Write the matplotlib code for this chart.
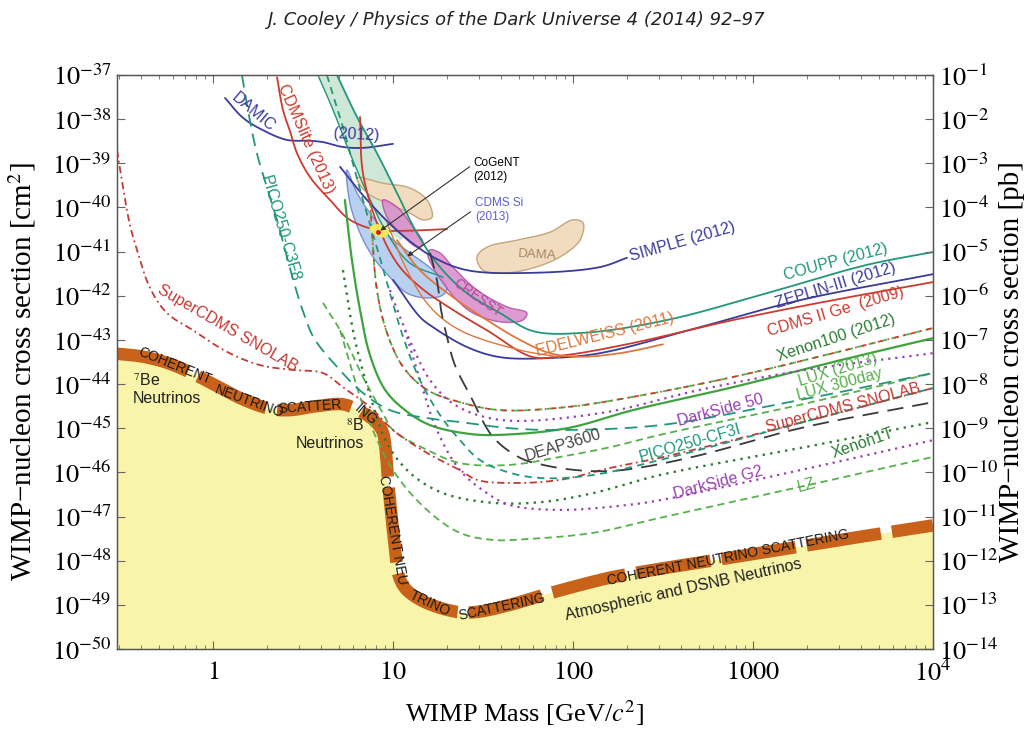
import numpy as np
import matplotlib
matplotlib.use("Agg")
import matplotlib.pyplot as plt
from matplotlib.ticker import FixedLocator, FixedFormatter, LogLocator, NullFormatter, NullLocator

plt.rcParams['mathtext.fontset'] = 'stix'
plt.rcParams['font.family'] = ['Liberation Sans', 'DejaVu Sans']

# ---------------- data: log10(mass / GeV), log10(sigma / cm^2) ----------------
floor_logm = [-0.54, -0.387, -0.239, -0.109, 0.020, 0.169, 0.317, 0.428, 0.576, 0.724, 0.835, 0.909,
              0.944, 0.962, 0.972, 0.99, 1.0, 1.015, 1.028, 1.055, 1.094, 1.189, 1.356, 1.467, 1.65,
              1.833, 2.078, 2.222, 2.444, 3.0, 3.5, 4.0]
floor_logs = [-43.31, -43.38, -43.54, -43.77, -44.04, -44.35, -44.56, -44.59, -44.50, -44.46, -44.65, -44.88,
              -45.1, -45.6, -46.17, -46.9, -47.31, -47.85, -48.28, -48.55, -48.73, -48.96, -49.16, -49.16, -49.0,
              -48.78, -48.51, -48.37, -48.21, -47.85, -47.52, -47.2]

damic_logm = [0.067, 0.167, 0.278, 0.411, 0.539, 0.611, 0.722, 0.833, 1.0]
damic_logs = [-37.52, -37.97, -38.25, -38.47, -38.49, -38.52, -38.63, -38.65, -38.56]

cdmslite_logm = [0.356, 0.389, 0.43, 0.467, 0.539, 0.65, 0.761, 0.911, 1.039, 1.3]
cdmslite_logs = [-37.05, -37.79, -38.3, -38.77, -39.31, -39.83, -40.28, -40.51, -40.53, -40.49]

coupp_logm = [0.689, 0.8, 0.911, 1.022, 1.133, 1.261, 1.411, 1.594, 1.778, 2.056, 2.522, 3.078, 3.633, 4.0]
coupp_logs = [-37.0, -37.95, -38.77, -39.67, -40.58, -41.35, -41.94, -42.39, -42.8, -42.84, -42.55, -41.94, -41.3, -41.01]

bandedge_logm = [0.583, 0.667, 0.761, 0.856, 0.967, 1.094, 1.278]
bandedge_logs = [-37.0, -37.79, -38.77, -39.67, -40.58, -41.26, -41.58]

band_logm = [0.583, 0.667, 0.761, 0.856, 0.928, 1.039, 1.133, 1.022, 0.911, 0.8, 0.689]
band_logs = [-37.0, -37.79, -38.77, -39.67, -40.4, -40.74, -40.58, -39.67, -38.77, -37.95, -37.0]

simple_logm = [0.706, 0.856, 1.039, 1.222, 1.411, 1.778, 2.15, 2.3]
simple_logs = [-39.08, -39.83, -40.58, -41.12, -41.42, -41.48, -41.35, -41.14]

zeplin_logm = [1.0, 1.15, 1.222, 1.411, 1.594, 1.872, 2.15, 2.706, 3.261, 4.0]
zeplin_logs = [-41.64, -42.48, -42.71, -43.16, -43.39, -43.41, -43.3, -42.71, -42.1, -41.51]

cdms2_logm = [0.817, 0.833, 0.911, 1.022, 1.15, 1.333, 1.522, 1.778, 1.967, 2.333, 2.889, 3.444, 4.0]
cdms2_logs = [-37.95, -39.22, -40.35, -41.26, -41.8, -42.32, -42.78, -43.39, -43.34, -43.07, -42.55, -42.1, -41.69]

edelweiss_logm = [1.022, 1.15, 1.333, 1.522, 1.706, 1.872, 2.039, 2.261, 2.5]
edelweiss_logs = [-40.74, -41.42, -42.03, -42.55, -43.0, -43.3, -43.38, -43.3, -43.1]

orange2_logm = [0.967, 1.078, 1.206, 1.372, 1.706, 1.928]
orange2_logs = [-40.35, -41.42, -42.25, -42.78, -43.23, -43.39]

xenon100_logm = [0.872, 0.911, 0.967, 1.056, 1.189, 1.372, 1.594, 1.967, 2.333, 2.889, 3.444, 4.0]
xenon100_logs = [-39.83, -41.87, -42.84, -43.61, -44.13, -44.41, -44.59, -44.52, -44.29, -43.84, -43.3, -42.73]

lux13_logm = [0.733, 0.772, 0.817, 0.872, 0.956, 1.067, 1.206, 1.428, 1.594, 1.967, 2.333, 2.889, 3.444, 4.0]
lux13_logs = [-39.83, -41.19, -42.32, -43.34, -44.13, -44.59, -44.93, -45.13, -45.15, -45.0, -44.59, -44.07, -43.5, -42.96]

ds50_logm = [0.983, 1.039, 1.106, 1.206, 1.344, 1.594, 2.15, 2.706, 3.261, 4.0]
ds50_logs = [-41.87, -42.48, -43.12, -43.91, -44.47, -44.81, -44.66, -44.13, -43.7, -43.3]

lux300_logm = [0.611, 0.722, 0.833, 0.944, 1.0, 1.189, 1.372, 1.65, 1.928, 2.206, 2.483, 3.261, 4.0]
lux300_logs = [-42.16, -42.89, -43.84, -44.66, -45.04, -45.49, -45.79, -45.83, -45.65, -45.43, -45.15, -44.47, -43.75]

scdms_logm = [-0.533, -0.5, -0.461, -0.422, -0.35, -0.256, -0.111, 0.078, 0.261, 0.444, 0.611, 0.722, 0.872,
              1.0, 1.189, 1.372, 1.467, 1.65, 1.928, 2.206, 2.483, 3.261, 4.0]
scdms_logs = [-38.7, -39.54, -40.4, -40.96, -41.82, -42.39, -42.78, -43.27, -43.57, -43.68, -43.75, -44.07, -44.52,
              -45.04, -45.56, -45.95, -46.17, -46.24, -46.17, -45.9, -45.67, -44.88, -44.09]

deap_logm = [1.206, 1.244, 1.267, 1.3, 1.344, 1.428, 1.556, 1.706, 1.833, 2.022, 2.206, 2.389, 2.706, 3.261, 4.0]
deap_logs = [-41.03, -41.64, -42.32, -42.93, -43.57, -44.25, -45.2, -45.67, -45.83, -45.95, -45.97, -45.88, -45.61, -45.0, -44.41]

xe1t_logm = [0.722, 0.789, 0.889, 0.967, 1.094, 1.278, 1.556, 1.833, 2.111, 2.483, 3.261, 4.0]
xe1t_logs = [-41.42, -43.0, -44.47, -45.34, -46.01, -46.47, -46.69, -46.67, -46.47, -46.06, -45.45, -44.86]

dsg2_logm = [1.067, 1.15, 1.244, 1.372, 1.522, 1.65, 1.928, 2.3, 2.483, 3.261, 4.0]
dsg2_logs = [-42.78, -43.91, -45.04, -45.95, -46.47, -46.74, -46.85, -46.74, -46.63, -45.95, -45.27]

lz_logm = [0.706, 0.844, 1.0, 1.189, 1.372, 1.556, 1.744, 2.111, 2.483, 3.261, 4.0]
lz_logs = [-42.78, -44.59, -45.95, -46.85, -47.37, -47.53, -47.51, -47.37, -47.03, -46.33, -45.65]

c3f8_logm = [0.161, 0.194, 0.244, 0.3, 0.356, 0.4, 0.45, 0.5, 0.56, 0.689, 0.833, 0.983, 1.189, 1.372,
             1.65, 1.928, 2.483, 3.261, 4.0]
c3f8_logs = [-37.0, -37.79, -38.77, -39.54, -40.28, -40.95, -41.7, -42.35, -42.95, -43.61, -44.2, -44.59, -44.77,
             -44.86, -45.0, -45.04, -44.93, -44.36, -43.75]

cf3i_logm = [0.633, 0.722, 0.833, 0.911, 0.983, 1.056, 1.15, 1.261, 1.372, 1.483, 1.65, 1.833, 2.111, 2.483, 3.261, 4.0]
cf3i_logs = [-37.0, -38.18, -39.83, -40.9, -41.94, -42.93, -43.91, -44.7, -45.27, -45.72, -46.01, -46.13, -46.06,
             -45.72, -44.88, -44.09]

dama1_logm = [0.8, 0.944, 1.094, 1.189, 1.217, 1.167, 1.094, 0.967, 0.856]
dama1_logs = [-39.33, -39.45, -39.56, -39.83, -40.22, -40.28, -40.13, -39.9, -39.67]
dama2_logm = [1.467, 1.522, 1.689, 1.872, 2.0, 2.056, 2.039, 1.928, 1.778, 1.633, 1.5]
dama2_logs = [-41.12, -40.9, -40.74, -40.56, -40.28, -40.35, -40.74, -41.12, -41.37, -41.48, -41.42]

cresst1_logm = [0.944, 1.022, 1.111, 1.167, 1.139, 1.039, 0.967]
cresst1_logs = [-39.83, -39.99, -40.44, -40.81, -40.9, -40.58, -40.22]
cresst2_logm = [1.206, 1.261, 1.333, 1.467, 1.633, 1.744, 1.722, 1.594, 1.444, 1.356, 1.278, 1.222, 1.194]
cresst2_logs = [-40.96, -41.03, -41.35, -41.87, -42.25, -42.39, -42.55, -42.59, -42.39, -42.1, -41.71, -41.35, -41.08]

cdmssi_logm = [0.744, 0.8, 0.889, 0.983, 1.094, 1.222, 1.3, 1.278, 1.189, 1.078, 0.983, 0.889, 0.817, 0.761]
cdmssi_logs = [-39.15, -39.67, -40.22, -40.67, -41.03, -41.42, -41.8, -41.98, -42.05, -41.94, -41.58, -41.12, -40.58, -39.9]

cogent_logm = [0.87, 0.92, 0.98, 0.95, 0.89]
cogent_logs = [-40.45, -40.38, -40.55, -40.68, -40.6]

x_ticks = [1, 10, 100, 1000, 10000]
x_ticklabels = ['$1$', '$10$', '$100$', '$1000$', '$10^{4}$']
y_exps = list(range(-50, -36))
pb_exps = list(range(-14, 0))

# ---------------- colours ----------------
BLUE = '#3b3b9b'
RED = '#cc3b2e'
ORANGE = '#e0763c'
TEAL = '#20977a'
GREEN = '#3ea33e'
LGREEN = '#56b04c'
DGREEN = '#2e7d34'
PURPLE = '#9a40b4'
GREY = '#3a3a3a'
YSCL = 0.245  # vertical/horizontal decade ratio on screen, used only for smooth drawing


def smooth(lx, ly, closed=False, n=14):
    """Centripetal Catmull-Rom curve through the read points (drawing only)."""
    P = np.column_stack([np.asarray(lx, float), np.asarray(ly, float) * YSCL])
    if closed:
        P = np.vstack([P[-1], P, P[0], P[1]])
    else:
        P = np.vstack([2 * P[0] - P[1], P, 2 * P[-1] - P[-2]])
    out = []
    for i in range(1, len(P) - 2):
        p0, p1, p2, p3 = P[i - 1], P[i], P[i + 1], P[i + 2]
        d01 = max(np.linalg.norm(p1 - p0) ** 0.5, 1e-6)
        d12 = max(np.linalg.norm(p2 - p1) ** 0.5, 1e-6)
        d23 = max(np.linalg.norm(p3 - p2) ** 0.5, 1e-6)
        t0, t1 = 0.0, d01
        t2, t3 = t1 + d12, t1 + d12 + d23
        t = np.linspace(t1, t2, n, endpoint=False)[:, None]
        A1 = (t1 - t) / (t1 - t0) * p0 + (t - t0) / (t1 - t0) * p1
        A2 = (t2 - t) / (t2 - t1) * p1 + (t - t1) / (t2 - t1) * p2
        A3 = (t3 - t) / (t3 - t2) * p2 + (t - t2) / (t3 - t2) * p3
        B1 = (t2 - t) / (t2 - t0) * A1 + (t - t0) / (t2 - t0) * A2
        B2 = (t3 - t) / (t3 - t1) * A2 + (t - t1) / (t3 - t1) * A3
        C = (t2 - t) / (t2 - t1) * B1 + (t - t1) / (t2 - t1) * B2
        out.append(C)
    out.append(P[-2][None, :])
    Q = np.vstack(out)
    return 10.0 ** Q[:, 0], 10.0 ** (Q[:, 1] / YSCL)


fig = plt.figure(figsize=(10.35, 7.31), dpi=100)
ax = fig.add_axes([117 / 1035, 1 - 649 / 731, (933 - 117) / 1035, (649 - 75) / 731])
ax.set_xscale('log')
ax.set_yscale('log')
ax.set_xlim(10 ** -0.533, 1e4)
ax.set_ylim(1e-50, 1e-37)


def line(lx, ly, color, lw=1.3, dashes=None, z=5):
    x, y = smooth(lx, ly)
    kw = dict(color=color, lw=lw, zorder=z, solid_capstyle='round')
    if dashes is not None:
        kw['dashes'] = dashes
    ax.plot(x, y, **kw)


def region(lx, ly, fc, ec, alpha=1.0, lw=1.0, z=3):
    x, y = smooth(lx, ly, closed=True)
    ax.fill(x, y, facecolor=fc, edgecolor=ec, lw=lw, alpha=alpha, zorder=z)


# neutrino floor
fx, fy = smooth(floor_logm, floor_logs, n=10)
ax.fill(np.concatenate([fx, [fx[-1], fx[0]]]), np.concatenate([fy, [1e-51, 1e-51]]),
        color='#f8f4aa', lw=0, zorder=1)
ax.plot(fx, fy, color='#c8621b', lw=9, dashes=(6, 0.9),
        solid_capstyle='butt', dash_capstyle='butt', zorder=2)

# regions
ax.fill(10.0 ** np.asarray(band_logm), 10.0 ** np.asarray(band_logs), facecolor='#cfe7d6', edgecolor='none', zorder=3)
region(dama1_logm, dama1_logs, '#f2dcc0', '#c7a57a')
region(dama2_logm, dama2_logs, '#f2dcc0', '#c7a57a')
region(cdmssi_logm, cdmssi_logs, '#b2cbef', '#6f86d0', alpha=0.9)
region(cresst1_logm, cresst1_logs, '#d98acb', '#b54fa3', alpha=0.85)
region(cresst2_logm, cresst2_logs, '#d98acb', '#b54fa3', alpha=0.85)
region(cogent_logm, cogent_logs, '#f3e85a', 'none', z=6)

# solid curves
line(damic_logm, damic_logs, BLUE)
line(cdmslite_logm, cdmslite_logs, RED)
line(coupp_logm, coupp_logs, TEAL)
line(bandedge_logm, bandedge_logs, TEAL, lw=1.0)
line(simple_logm, simple_logs, BLUE)
line(zeplin_logm, zeplin_logs, BLUE)
line(cdms2_logm, cdms2_logs, RED)
line(edelweiss_logm, edelweiss_logs, ORANGE)
line(orange2_logm, orange2_logs, ORANGE, lw=1.0)
line(lux13_logm, lux13_logs, GREEN, lw=1.6)
# projections / dashed
line(xenon100_logm, xenon100_logs, LGREEN, dashes=(4, 2.5))
line(xenon100_logm, xenon100_logs, RED, lw=1.2, dashes=(3, 3, 1, 3))
line(ds50_logm, ds50_logs, PURPLE, lw=1.6, dashes=(1, 2.2))
line(lux300_logm, lux300_logs, LGREEN, dashes=(4, 2.5))
line(scdms_logm, scdms_logs, '#c43a34', dashes=(4, 2, 1, 2))
line(deap_logm, deap_logs, GREY, dashes=(9, 5))
line(xe1t_logm, xe1t_logs, DGREEN, lw=1.7, dashes=(1, 2.2))
line(dsg2_logm, dsg2_logs, PURPLE, lw=1.6, dashes=(1, 2.2))
line(lz_logm, lz_logs, LGREEN, dashes=(4, 2.5))
line(c3f8_logm, c3f8_logs, TEAL, dashes=(7, 4))
line(cf3i_logm, cf3i_logs, TEAL, dashes=(4, 3))


# ---------------- labels ----------------
def lab(lm, ls, s, rot, color, size=11.5, **kw):
    ax.text(10 ** lm, 10 ** ls, s, rotation=rot, rotation_mode='anchor', ha=kw.pop('ha', 'center'),
            va=kw.pop('va', 'center'), color=color, fontsize=size, zorder=8, **kw)


lab(0.222, -37.84, 'DAMIC', -40, BLUE)
lab(0.794, -38.36, '(2012)', -3, BLUE)
lab(0.517, -38.45, 'CDMSlite (2013)', -66, RED)
lab(0.372, -40.47, 'PICO250-C3F8', -74, TEAL)
lab(0.083, -42.73, 'SuperCDMS SNOLAB', -30, '#c43a34')
lab(2.606, -40.78, 'SIMPLE (2012)', 16, BLUE)
lab(3.461, -41.24, 'COUPP (2012)', 15, TEAL)
lab(3.461, -41.76, 'ZEPLIN-III (2012)', 17, BLUE)
lab(3.461, -42.35, 'CDMS II Ge  (2009)', 16.5, RED)
lab(3.461, -42.96, 'Xenon100 (2012)', 18, DGREEN)
lab(3.472, -43.68, 'LUX (2013)', 17, LGREEN)
lab(3.483, -44.0, 'LUX 300day', 15, LGREEN)
lab(3.5, -44.54, 'SuperCDMS SNOLAB', 14.5, '#c43a34')
lab(2.817, -44.59, 'DarkSide 50', 15, PURPLE)
lab(2.65, -45.34, 'PICO250-CF3I', 16, TEAL)
lab(1.944, -45.38, 'DEAP3600', 17, '#444444')
lab(3.611, -45.33, 'Xenon1T', 19, DGREEN)
lab(2.806, -46.24, 'DarkSide G2', 15, PURPLE)
lab(3.3, -46.3, 'LZ', 15, LGREEN)
lab(2.178, -42.89, 'EDELWEISS (2011)', 14, ORANGE)
lab(1.472, -42.05, 'CRESST', -35, '#b04a9c', size=10)
lab(1.8, -41.08, 'DAMA', -3, '#a58660', size=9.5)
lab(1.444, -39.15, 'CoGeNT\n(2012)', 0, 'black', size=8.5, ha='left', linespacing=1.2)
lab(1.456, -40.06, 'CDMS Si\n(2013)', 0, '#5b5fcf', size=8.5, ha='left', linespacing=1.2)
ax.annotate('', xy=(10 ** 0.917, 10 ** -40.56), xytext=(10 ** 1.439, 10 ** -39.04),
            arrowprops=dict(arrowstyle='-|>', color='#333333', lw=0.8, mutation_scale=7), zorder=8)
ax.annotate('', xy=(10 ** 1.067, 10 ** -41.14), xytext=(10 ** 1.444, 10 ** -40.06),
            arrowprops=dict(arrowstyle='-|>', color='#333333', lw=0.8, mutation_scale=7), zorder=8)
ax.plot([10 ** 0.917], [10 ** -40.56], marker='o', ms=2.5, color='#cc2020', zorder=9)

# neutrino labels
lab(-0.444, -44.11, '$^7$Be\nNeutrinos', 0, '#222222', size=11.5, ha='left', linespacing=1.15)
lab(0.84, -45.13, '$^8$B\nNeutrinos', 0, '#222222', size=11.5, ha='right', multialignment='right', linespacing=1.15)
lab(2.611, -48.66, 'Atmospheric and DSNB Neutrinos', 12.4, '#222222', size=11.5)


def floor_text(lm, s, rot):
    ls = np.interp(lm, floor_logm, floor_logs)
    lab(lm, ls, s, rot, '#1a1a1a', size=10)


floor_text(-0.21, 'COHERENT', -22)
floor_text(0.2, 'NEUTRINO', -20)
floor_text(0.54, 'SCATTER', 4)
floor_text(0.85, 'ING', -40)
lab(1.0, -47.31, 'COHERENT NEU', -80, '#1a1a1a', size=10)
floor_text(1.206, 'TRINO', -25)
floor_text(1.606, 'SCATTERING', 12)
floor_text(2.86, 'COHERENT NEUTRINO SCATTERING', 11)

# ---------------- axes styling ----------------
ax.xaxis.set_major_locator(FixedLocator(x_ticks))
ax.xaxis.set_major_formatter(FixedFormatter(x_ticklabels))
ax.xaxis.set_minor_locator(LogLocator(base=10, subs=np.arange(2, 10)))
ax.xaxis.set_minor_formatter(NullFormatter())
ax.yaxis.set_major_locator(FixedLocator([10.0 ** e for e in y_exps]))
ax.yaxis.set_major_formatter(FixedFormatter(['$10^{%d}$' % e for e in y_exps]))
ax.yaxis.set_minor_locator(NullLocator())
ax.tick_params(axis='both', which='both', direction='in', top=True, right=False, color='#666666')
ax.tick_params(axis='x', which='major', length=6, labelsize=19, pad=8)
ax.tick_params(axis='x', which='minor', length=3)
ax.tick_params(axis='y', which='major', length=6, labelsize=19, pad=4)
for sp in ax.spines.values():
    sp.set_color('#555555')
    sp.set_linewidth(1.0)

ax2 = ax.twinx()
ax2.set_yscale('log')
ax2.set_ylim(1e-14, 1e-1)
ax2.yaxis.set_major_locator(FixedLocator([10.0 ** e for e in pb_exps]))
ax2.yaxis.set_major_formatter(FixedFormatter(['$10^{%d}$' % e for e in pb_exps]))
ax2.yaxis.set_minor_locator(NullLocator())
ax2.tick_params(axis='y', which='major', direction='in', length=6, labelsize=19, pad=4, color='#666666')
for sp in ax2.spines.values():
    sp.set_color('#555555')

fig.text(517 / 1035, 1 - 20 / 731, 'J. Cooley / Physics of the Dark Universe 4 (2014) 92\u201397',
         ha='center', va='center', fontsize=13, style='italic', color='#222222',
         family=['Liberation Sans Narrow', 'DejaVu Sans'])
fig.text(525 / 1035, 1 - 713 / 731, 'WIMP Mass [GeV/$c^2$]', ha='center', va='center', fontsize=19,
         family=['Liberation Serif', 'DejaVu Serif'])
fig.text(22 / 1035, 1 - 372 / 731, 'WIMP\u2212nucleon cross section [cm$^2$]', ha='center', va='center',
         rotation=90, fontsize=21, family=['Liberation Serif', 'DejaVu Serif'])
fig.text(1012 / 1035, 1 - 362 / 731, 'WIMP\u2212nucleon cross section [pb]', ha='center', va='center',
         rotation=90, fontsize=21, family=['Liberation Serif', 'DejaVu Serif'])

fig.savefig('out.png', dpi=100)
